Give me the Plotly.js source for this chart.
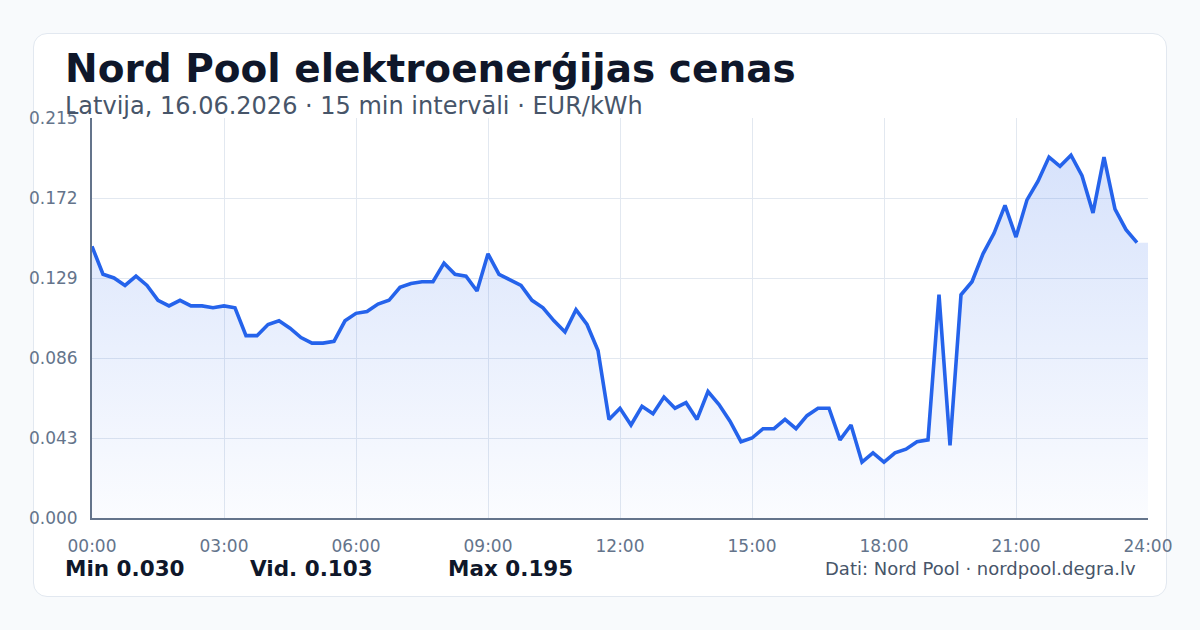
<!DOCTYPE html>
<html>
<head>
<meta charset="utf-8">
<script src="https://cdn.plot.ly/plotly-3.0.1.min.js"></script>
<style>
  html, body { margin: 0; padding: 0; width: 1200px; height: 630px; background: #f8fafc; overflow: hidden; }
  #card { position: absolute; left: 33px; top: 33px; width: 1134px; height: 564px; background: #ffffff;
          border: 1px solid #e2e8f0; border-radius: 14px; box-sizing: border-box; }
  #chart { position: absolute; left: 0; top: 0; width: 1200px; height: 630px; }
</style>
</head>
<body>
<div id="card"></div>
<div id="chart"></div>
<script>
// 15-minute prices, EUR/kWh, 16.06.2026 (96 intervals from 00:00)
const prices = [
  0.146, 0.131, 0.129, 0.125, 0.130, 0.125, 0.117, 0.114, 0.117, 0.114,
  0.114, 0.113, 0.114, 0.113, 0.098, 0.098, 0.104, 0.106, 0.102, 0.097,
  0.094, 0.094, 0.095, 0.106, 0.110, 0.111, 0.115, 0.117, 0.124, 0.126,
  0.127, 0.127, 0.137, 0.131, 0.130, 0.122, 0.142, 0.131, 0.128, 0.125,
  0.117, 0.113, 0.106, 0.100, 0.112, 0.104, 0.090, 0.053, 0.059, 0.050,
  0.060, 0.056, 0.065, 0.059, 0.062, 0.053, 0.068, 0.061, 0.052, 0.041,
  0.043, 0.048, 0.048, 0.053, 0.048, 0.055, 0.059, 0.059, 0.042, 0.050,
  0.030, 0.035, 0.030, 0.035, 0.037, 0.041, 0.042, 0.120, 0.039, 0.120,
  0.127, 0.142, 0.153, 0.168, 0.151, 0.171, 0.181, 0.194, 0.189, 0.195,
  0.184, 0.164, 0.194, 0.166, 0.155, 0.148
];
const xTickVals = [0, 3, 6, 9, 12, 15, 18, 21, 24];
const xTickText = ["00:00", "03:00", "06:00", "09:00", "12:00", "15:00", "18:00", "21:00", "24:00"];
const yTickVals = [0, 0.043, 0.086, 0.129, 0.172, 0.215];
const yTickText = ["0.000", "0.043", "0.086", "0.129", "0.172", "0.215"];
const titleText = "Nord Pool elektroenerģijas cenas";
const subtitleText = "Latvija, 16.06.2026 · 15 min intervāli · EUR/kWh";
const sourceText = "Dati: Nord Pool · nordpool.degra.lv";

const hours = prices.map((_, i) => i / 4);
const fillX = hours.concat([24]);
const fillY = prices.concat([prices[prices.length - 1]]);

const minV = Math.min(...prices);
const maxV = Math.max(...prices);
const avgV = prices.reduce((a, b) => a + b, 0) / prices.length;

// plot area in pixels
const L = 92, R = 1148, T = 118, B = 518;
const px = x => (x - L) / (R - L);
const py = y => (B - y) / (B - T);

const FONT = "DejaVu Sans, Verdana, sans-serif";

const traces = [
  {
    x: fillX, y: fillY, type: "scatter", mode: "lines",
    line: { width: 0, color: "rgba(37,99,235,0)" },
    fill: "tozeroy",
    fillcolor: "rgba(37,99,235,0.12)",
    fillgradient: {
      type: "vertical", start: 0, stop: 0.215,
      colorscale: [[0, "rgba(37,99,235,0.02)"], [1, "rgba(37,99,235,0.2)"]]
    },
    hoverinfo: "skip", showlegend: false
  },
  {
    x: hours, y: prices, type: "scatter", mode: "lines",
    line: { color: "#2563eb", width: 3.6, shape: "linear" },
    showlegend: false
  }
];

const annotations = [
  { text: "<b>" + titleText + "</b>", x: px(64), y: py(68), xanchor: "left", yanchor: "middle",
    font: { family: FONT, size: 39, color: "#0f172a" } },
  { text: subtitleText, x: px(64), y: py(106), xanchor: "left", yanchor: "middle",
    font: { family: FONT, size: 24, color: "#475569" } },
  { text: "<b>Min " + minV.toFixed(3) + "</b>", x: px(64), y: py(568), xanchor: "left", yanchor: "middle",
    font: { family: FONT, size: 21.5, color: "#0f172a" } },
  { text: "<b>Vid. " + avgV.toFixed(3) + "</b>", x: px(249), y: py(568), xanchor: "left", yanchor: "middle",
    font: { family: FONT, size: 21.5, color: "#0f172a" } },
  { text: "<b>Max " + maxV.toFixed(3) + "</b>", x: px(447), y: py(568), xanchor: "left", yanchor: "middle",
    font: { family: FONT, size: 21.5, color: "#0f172a" } },
  { text: sourceText, x: px(1137), y: py(568), xanchor: "right", yanchor: "middle",
    font: { family: FONT, size: 18, color: "#475569" } }
].map(a => Object.assign({ xref: "paper", yref: "paper", showarrow: false, borderpad: 0 }, a));

const layout = {
  width: 1200, height: 630,
  margin: { l: L, r: 1200 - R, t: T, b: 630 - B, pad: 0 },
  paper_bgcolor: "rgba(0,0,0,0)",
  plot_bgcolor: "rgba(0,0,0,0)",
  font: { family: FONT, color: "#64748b" },
  showlegend: false,
  xaxis: {
    range: [0, 24], tickmode: "array", tickvals: xTickVals, ticktext: xTickText,
    showgrid: true, gridcolor: "#e2e8f0", gridwidth: 1,
    showline: true, linecolor: "#64748b", linewidth: 2,
    zeroline: false, ticks: "", ticklabelstandoff: 12,
    tickfont: { family: FONT, size: 17, color: "#64748b" },
    fixedrange: true
  },
  yaxis: {
    range: [0, 0.215], tickmode: "array", tickvals: yTickVals, ticktext: yTickText,
    showgrid: true, gridcolor: "#e2e8f0", gridwidth: 1,
    showline: true, linecolor: "#64748b", linewidth: 2,
    zeroline: false, ticks: "", ticklabelstandoff: 9,
    tickfont: { family: FONT, size: 17, color: "#64748b" },
    fixedrange: true
  },
  annotations: annotations
};

Plotly.newPlot("chart", traces, layout, { displayModeBar: false, staticPlot: true });
</script>
</body>
</html>
